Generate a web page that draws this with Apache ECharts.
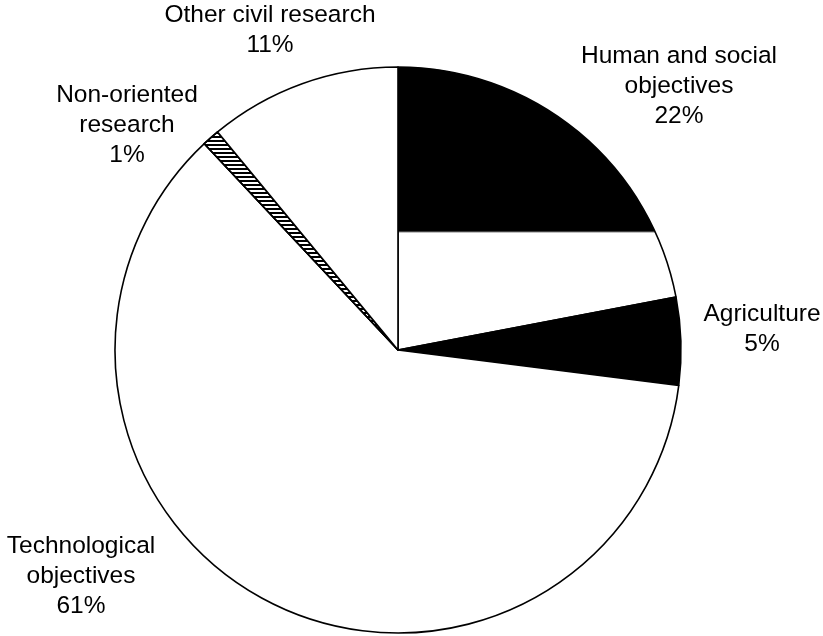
<!DOCTYPE html>
<html>
<head>
<meta charset="utf-8">
<script src="https://cdn.jsdelivr.net/npm/echarts@6/dist/echarts.min.js"></script>
<style>
html,body{margin:0;padding:0;background:#fff;}
#chart{width:823px;height:636px;}
</style>
</head>
<body>
<div id="chart"></div>
<script>
// Data
var categories = ['Human and social\nobjectives', 'Agriculture', 'Technological\nobjectives', 'Non-oriented\nresearch', 'Other civil research'];
var percentages = [22, 5, 61, 1, 11];

// Label placement (style only)
var labelPos = [[679, 86], [762, 329], [81, 576], [127, 125], [270, 30]];

var chart = echarts.init(document.getElementById('chart'), null, {renderer: 'canvas'});

var fills = [
  {type: 'linear', x: 0, y: 231, x2: 0, y2: 233, global: true,
   colorStops: [{offset: 0, color: '#000'}, {offset: 1, color: '#fff'}]},
  '#000',
  '#fff',
  '#fff',
  '#fff'
];

var seriesData = categories.map(function (c, i) {
  var item = {
    name: c,
    value: percentages[i],
    itemStyle: {color: fills[i]}
  };
  if (i === 3) {
    item.itemStyle.decal = {
      symbol: 'rect',
      symbolSize: 1,
      color: '#000',
      dashArrayX: [1, 0],
      dashArrayY: [1.5, 1.5],
      rotation: 0
    };
  }
  return item;
});

chart.setOption({
  backgroundColor: '#fff',
  animation: false,
  series: [{
    type: 'pie',
    center: [398, 350],
    radius: 283,
    startAngle: 90,
    clockwise: true,
    avoidLabelOverlap: false,
    data: seriesData,
    itemStyle: {borderColor: '#000', borderWidth: 1.6},
    emphasis: {disabled: true},
    label: {
      show: true,
      position: 'outside',
      formatter: function (p) { return p.name + '\n' + p.value + '%'; },
      fontFamily: 'Liberation Sans, Arial, sans-serif',
      fontSize: 24.5,
      lineHeight: 30,
      color: '#000',
      align: 'center'
    },
    labelLine: {show: false},
    labelLayout: function (params) {
      var p = labelPos[params.dataIndex];
      return {x: p[0], y: p[1], align: 'center', verticalAlign: 'middle'};
    }
  }]
});
</script>
</body>
</html>
